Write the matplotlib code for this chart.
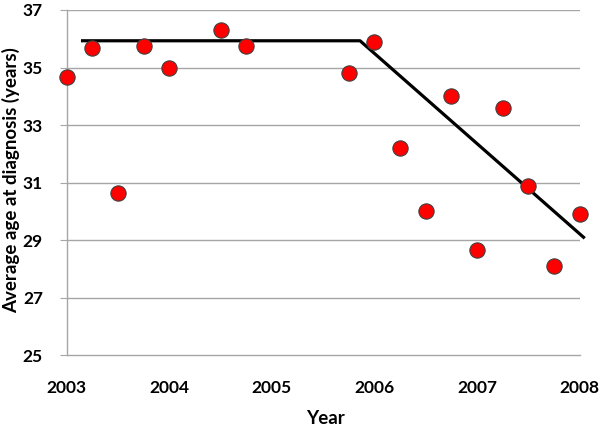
import matplotlib.pyplot as plt

# scatter: average age at diagnosis per quarter
years = [2003.0, 2003.25, 2003.5, 2003.75, 2004.0, 2004.5, 2004.75,
         2005.75, 2006.0, 2006.25, 2006.5, 2006.75, 2007.0, 2007.25,
         2007.5, 2007.75, 2008.0]
ages = [34.68, 35.67, 30.63, 35.75, 34.99, 36.30, 35.76,
        34.82, 35.88, 32.19, 30.01, 34.01, 28.66, 33.58,
        30.88, 28.10, 29.91]

# piecewise trend line
trend_x = [2003.14, 2005.86, 2008.05]
trend_y = [35.93, 35.93, 29.07]

xticks = [2003, 2004, 2005, 2006, 2007, 2008]
yticks = [25, 27, 29, 31, 33, 35, 37]

plt.rcParams["font.family"] = ["Lato", "DejaVu Sans"]

fig = plt.figure(figsize=(6, 4.33), dpi=100)
ax = fig.add_axes([0.111, 0.179, 0.855, 0.798])

for y in yticks[1:]:
    ax.axhline(y, color="#a6a6a6", linewidth=1.0, zorder=0)

ax.plot(trend_x, trend_y, color="black", linewidth=2.3, zorder=2,
        solid_capstyle="butt", clip_on=False)
ax.plot(years, ages, linestyle="none", marker="o", markersize=11,
        markerfacecolor="#ff0000", markeredgecolor="#404040",
        markeredgewidth=0.8, zorder=3, clip_on=False)

ax.set_xlim(2003, 2008)
ax.set_ylim(25, 37)
ax.set_xticks(xticks)
ax.set_yticks(yticks)
ax.set_xticklabels([str(t) for t in xticks], fontsize=12.5, fontweight="bold")
ax.set_yticklabels([str(t) for t in yticks], fontsize=12.5, fontweight="bold")
ax.tick_params(axis="x", length=0, pad=18)
ax.tick_params(axis="y", length=5, color="#a6a6a6", pad=12)

for side in ["top", "right"]:
    ax.spines[side].set_visible(False)
for side in ["left", "bottom"]:
    ax.spines[side].set_color("#a6a6a6")
    ax.spines[side].set_linewidth(1.0)

fig.text(325 / 600, 1 - 418 / 433, "Year", fontsize=13.5, fontweight="bold",
         ha="center", va="center")
fig.text(11 / 600, 1 - 180 / 433, "Average age at diagnosis (years)",
         fontsize=13.5, fontweight="bold", rotation=90, ha="center", va="center")

fig.savefig("out.png", dpi=100, facecolor="white")
